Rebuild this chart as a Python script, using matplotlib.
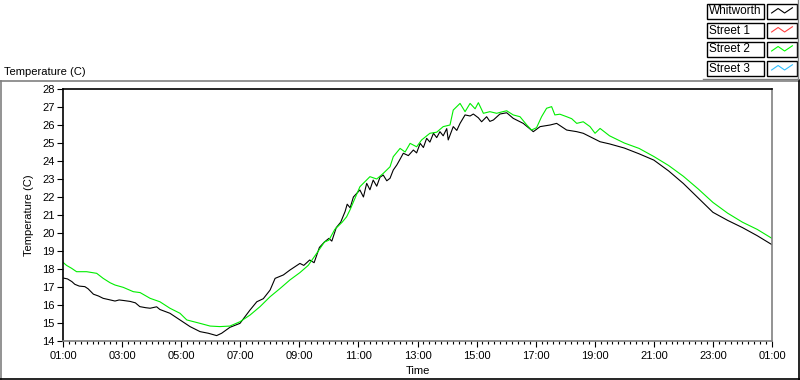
import numpy as np
import matplotlib
matplotlib.use('Agg')
import matplotlib.pyplot as plt
from matplotlib.lines import Line2D
from matplotlib.patches import Rectangle

# hours after 01:00, temperature (C)
whitworth_h = [0.00, 0.15, 0.30, 0.40, 0.55, 0.74, 0.85, 1.03, 1.20, 1.36, 1.55, 1.76, 1.90, 2.05,
               2.27, 2.45, 2.60, 2.80, 2.95, 3.17, 3.28, 3.62, 3.96, 4.30, 4.64, 4.92, 5.20, 5.37,
               5.65, 5.99, 6.33, 6.56, 6.78, 7.01, 7.18, 7.46, 7.68, 8.02, 8.15, 8.35, 8.50, 8.68,
               8.85, 9.00, 9.10, 9.25, 9.40, 9.55, 9.62, 9.72, 9.83, 10.05, 10.17, 10.28, 10.39,
               10.50, 10.62, 10.73, 10.84, 10.96, 11.07, 11.18, 11.30, 11.41, 11.52, 11.69, 11.86,
               11.97, 12.09, 12.20, 12.31, 12.42, 12.54, 12.65, 12.76, 12.87, 12.99, 13.04, 13.21,
               13.33, 13.44, 13.61, 13.78, 13.89, 14.06, 14.17, 14.34, 14.45, 14.57, 14.79, 15.02,
               15.24, 15.58, 15.92, 16.15, 16.49, 16.71, 17.05, 17.39, 17.61, 17.95, 18.18, 18.50,
               19.00, 19.50, 20.00, 20.50, 21.00, 21.50, 22.00, 22.50, 23.00, 23.50, 24.00]
whitworth_t = [17.50, 17.45, 17.30, 17.15, 17.05, 17.02, 16.90, 16.60, 16.50, 16.37, 16.30, 16.22, 16.28, 16.25,
               16.20, 16.12, 15.91, 15.85, 15.82, 15.90, 15.75, 15.54, 15.17, 14.80, 14.52, 14.43, 14.30, 14.43,
               14.76, 14.98, 15.72, 16.18, 16.35, 16.83, 17.48, 17.67, 17.94, 18.31, 18.20, 18.50, 18.35, 19.20,
               19.50, 19.70, 19.55, 20.30, 20.60, 21.20, 21.60, 21.40, 22.00, 22.39, 22.00, 22.76, 22.40,
               22.94, 22.60, 23.10, 23.22, 22.90, 23.04, 23.50, 23.78, 24.10, 24.43, 24.30, 24.61,
               24.45, 24.98, 24.75, 25.26, 25.05, 25.54, 25.30, 25.63, 25.40, 25.80, 25.17, 25.91,
               25.70, 26.09, 26.56, 26.50, 26.61, 26.40, 26.18, 26.46, 26.20, 26.28, 26.61, 26.68,
               26.37, 26.09, 25.63, 25.91, 26.00, 26.09, 25.72, 25.63, 25.54, 25.26, 25.07, 24.95,
               24.72, 24.40, 24.05, 23.45, 22.75, 21.95, 21.15, 20.70, 20.30, 19.85, 19.35]

street2_h = [0.00, 0.12, 0.29, 0.46, 0.80, 1.14, 1.36, 1.59, 1.76, 2.04, 2.38, 2.61, 2.95, 3.28, 3.62,
             3.96, 4.19, 4.64, 4.98, 5.31, 5.65, 5.99, 6.33, 6.67, 7.01, 7.35, 7.68, 8.02, 8.30, 8.60,
             8.85, 9.00, 9.20, 9.45, 9.60, 9.72, 10.05, 10.39, 10.62, 10.84, 11.07, 11.18, 11.41, 11.58,
             11.75, 11.97, 12.14, 12.42, 12.65, 12.87, 13.10, 13.21, 13.44, 13.61, 13.78, 13.95, 14.06,
             14.23, 14.45, 14.68, 14.91, 15.02, 15.24, 15.47, 15.70, 15.86, 16.03, 16.20, 16.37, 16.54,
             16.65, 16.82, 17.05, 17.22, 17.39, 17.61, 17.84, 18.01, 18.18, 18.50, 19.00, 19.50, 20.00,
             20.50, 21.00, 21.50, 22.00, 22.50, 23.00, 23.50, 24.00]
street2_t = [18.37, 18.20, 18.04, 17.85, 17.85, 17.76, 17.48, 17.24, 17.11, 16.98, 16.74, 16.69, 16.37, 16.18, 15.82,
             15.54, 15.17, 14.98, 14.83, 14.80, 14.83, 15.07, 15.44, 15.91, 16.46, 16.92, 17.39, 17.80, 18.20, 18.90,
             19.50, 19.60, 20.20, 20.60, 20.90, 21.30, 22.57, 23.13, 23.00, 23.31, 23.68, 24.24, 24.70, 24.50,
             24.98, 24.79, 25.17, 25.54, 25.60, 25.91, 26.00, 26.83, 27.20, 26.74, 27.20, 26.90, 27.24,
             26.65, 26.74, 26.65, 26.75, 26.79, 26.56, 26.46, 26.00, 25.72, 25.85, 26.46, 26.93, 27.02,
             26.56, 26.60, 26.46, 26.35, 26.09, 26.18, 25.91, 25.54, 25.81, 25.40, 25.00, 24.70, 24.25,
             23.75, 23.15, 22.45, 21.70, 21.10, 20.60, 20.20, 19.70]

x_ticks = list(range(0, 25, 2))
x_labels = ['01:00', '03:00', '05:00', '07:00', '09:00', '11:00', '13:00',
            '15:00', '17:00', '19:00', '21:00', '23:00', '01:00']
y_ticks = list(range(14, 29))

legend_names = ['Whitworth', 'Street 1', 'Street 2', 'Street 3']
legend_colors = ['#000000', '#ff4040', '#00ff00', '#30c0ff']

plt.rcParams['font.family'] = ['Liberation Sans', 'DejaVu Sans']
W, H = 800, 380
fig = plt.figure(figsize=(8, 3.8), dpi=100)
fig.patch.set_facecolor('white')


def px(x, y):
    # pixel coords (top-left origin) -> figure fraction
    return x / W, 1 - y / H


# outer panel frame
gray = '#808080'
fig.add_artist(Line2D([0, 1], [1 - 81 / H] * 2, color=gray, lw=1.2, transform=fig.transFigure))
fig.add_artist(Line2D([0.5 / W] * 2, [1 - 81 / H, 0], color=gray, lw=1.2, transform=fig.transFigure))
fig.add_artist(Line2D([799 / W] * 2, [1 - 80 / H, 0], color='black', lw=1.2, transform=fig.transFigure))
fig.add_artist(Line2D([0, 1], [1 - 378.5 / H] * 2, color='black', lw=1.2, transform=fig.transFigure))

ax = fig.add_axes([63 / W, 1 - 341 / H, 709 / W, 252 / H])
ax.plot(whitworth_h, whitworth_t, color='black', lw=0.8)
ax.plot(street2_h, street2_t, color='#00ee00', lw=0.8)

ax.set_xlim(0, 24)
ax.set_ylim(14, 28)
ax.set_xticks(x_ticks)
ax.set_xticklabels(x_labels)
ax.set_xticks(np.arange(0, 24.01, 0.2), minor=True)
ax.set_yticks(y_ticks)
ax.tick_params(axis='both', which='major', direction='out', length=4, width=0.8, labelsize=8, pad=2)
ax.tick_params(axis='x', which='minor', direction='out', length=2.5, width=0.8)
ax.tick_params(axis='x', which='major', pad=3)
for s in ['top', 'left']:
    ax.spines[s].set_color('black')
    ax.spines[s].set_linewidth(1.2)
for s in ['right', 'bottom']:
    ax.spines[s].set_color(gray)
    ax.spines[s].set_linewidth(1.2)
ax.set_ylabel('Temperature (C)', fontsize=8, labelpad=6)
ax.set_xlabel('Time', fontsize=8, labelpad=4)

fig.text(4 / W, 1 - 72 / H, 'Temperature (C)', fontsize=8, va='center', ha='left')

# legend at top right
zig = [(0.1, 0.6), (0.35, 0.3), (0.6, 0.6), (0.9, 0.25)]
for i, (name, col) in enumerate(zip(legend_names, legend_colors)):
    top = 4 + i * 19
    x0, y0 = px(707, top + 15)
    fig.add_artist(Rectangle((x0, y0), 57 / W, 15 / H, transform=fig.transFigure,
                             fill=False, edgecolor='black', lw=1.0))
    fig.text(x0 + 2 / W, y0 + 7.5 / H, name, fontsize=8.5, va='center', ha='left')
    sx, sy = px(767, top + 15)
    fig.add_artist(Rectangle((sx, sy), 30 / W, 15 / H, transform=fig.transFigure,
                             fill=False, edgecolor='black', lw=1.0))
    fig.add_artist(Line2D([sx + (2 + a * 26) / W for a, b in zig],
                          [sy + (15 - b * 15) / H for a, b in zig],
                          color=col, lw=0.8, transform=fig.transFigure))
fig.add_artist(Line2D([797.5 / W] * 2, [1, 1 - 79 / H], color=gray, lw=1.0, transform=fig.transFigure))
fig.add_artist(Line2D([703 / W, 798 / W], [1 - 79 / H] * 2, color=gray, lw=1.0, transform=fig.transFigure))

fig.savefig('out.png', dpi=100)
